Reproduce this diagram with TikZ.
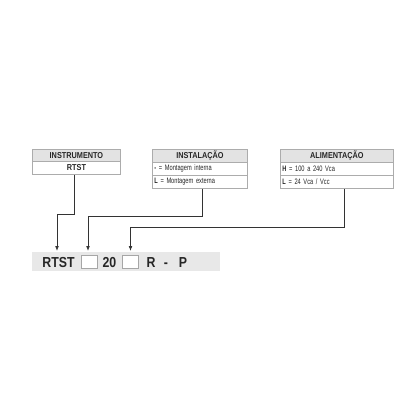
\documentclass[tikz,border=0pt]{standalone}
\usepackage{fontspec}
\setmainfont{Liberation Sans}[FakeStretch=0.85]
\newfontfamily\narrowfont{Liberation Sans}[FakeStretch=0.72]
\usetikzlibrary{arrows.meta}
\begin{document}
\begin{tikzpicture}[x=1pt,y=-1pt,
  frame/.style={draw=gray!65, line width=0.9pt, inner sep=0pt, minimum height=13pt, anchor=north west},
  head/.style={frame, fill=gray!22, font=\bfseries\fontsize{8.6}{9}\selectfont, text=black!85},
  item/.style={frame, fill=white, font=\narrowfont\fontsize{7.9}{8}\selectfont, text=black!85, align=left, inner xsep=2pt},
  link/.style={draw=black!80, line width=0.8pt, -{Latex[length=5pt,width=3.8pt]}},
  code/.style={font=\bfseries\fontsize{14.5}{15}\selectfont, text=black!85, inner sep=0pt, text height=10.4pt, text depth=0pt},
  slot/.style={draw=gray!70, fill=white, line width=0.7pt, minimum width=16pt, minimum height=13pt, inner sep=0pt}]
\useasboundingbox (0,0) rectangle (416,416);
\fill[white] (0,0) rectangle (416,416);

% INSTRUMENTO
\node[head, minimum width=88pt, minimum height=12pt] (i1) at (32,149) {INSTRUMENTO};
\node[head, fill=white, minimum width=88pt] (i2) at (32,161) {RTST};

% INSTALACAO
\node[head, minimum width=95pt] (a1) at (152,149) {INSTALAÇÃO};
\node[item, text width=91pt] (a2) at (152,162) {\textbf{-} = Montagem interna};
\node[item, text width=91pt] (a3) at (152,175) {\textbf{L} = Montagem externa};

% ALIMENTACAO
\node[head, minimum width=113pt] (p1) at (280,149) {ALIMENTAÇÃO};
\node[item, text width=109pt] (p2) at (280,162) {\textbf{H} = 100 a 240 Vca};
\node[item, text width=109pt] (p3) at (280,175) {\textbf{L} = 24 Vca / Vcc};

% code bar
\node[fill=gray!18, minimum width=188pt, minimum height=19pt, inner sep=0pt, anchor=north west] (bar) at (32,252) {};
\node[code] (c1) at (58.5,262) {RTST};
\node[slot] (s1) at (89,261.5) {};
\node[code] (c2) at (109.5,262) {20};
\node[slot] (s2) at (130.5,261.5) {};
\node[code] (c3) at (151,262) {R};
\node[code] (c4) at (166,262) {-};
\node[code] (c5) at (183,262) {P};

% connectors
\coordinate (k1) at (57,214);
\coordinate (t1) at (57,251);
\coordinate (k2) at (88,216);
\coordinate (t2) at (88,251);
\coordinate (k3) at (130.5,227);
\coordinate (t3) at (130.5,251);
\draw[link] ([xshift=-2pt]i2.south) |- (k1) -- (t1);
\draw[link] ([xshift=2.5pt]a3.south) |- (k2) -- (t2);
\draw[link] ([xshift=7.5pt]p3.south) |- (k3) -- (t3);
\end{tikzpicture}
\end{document}
